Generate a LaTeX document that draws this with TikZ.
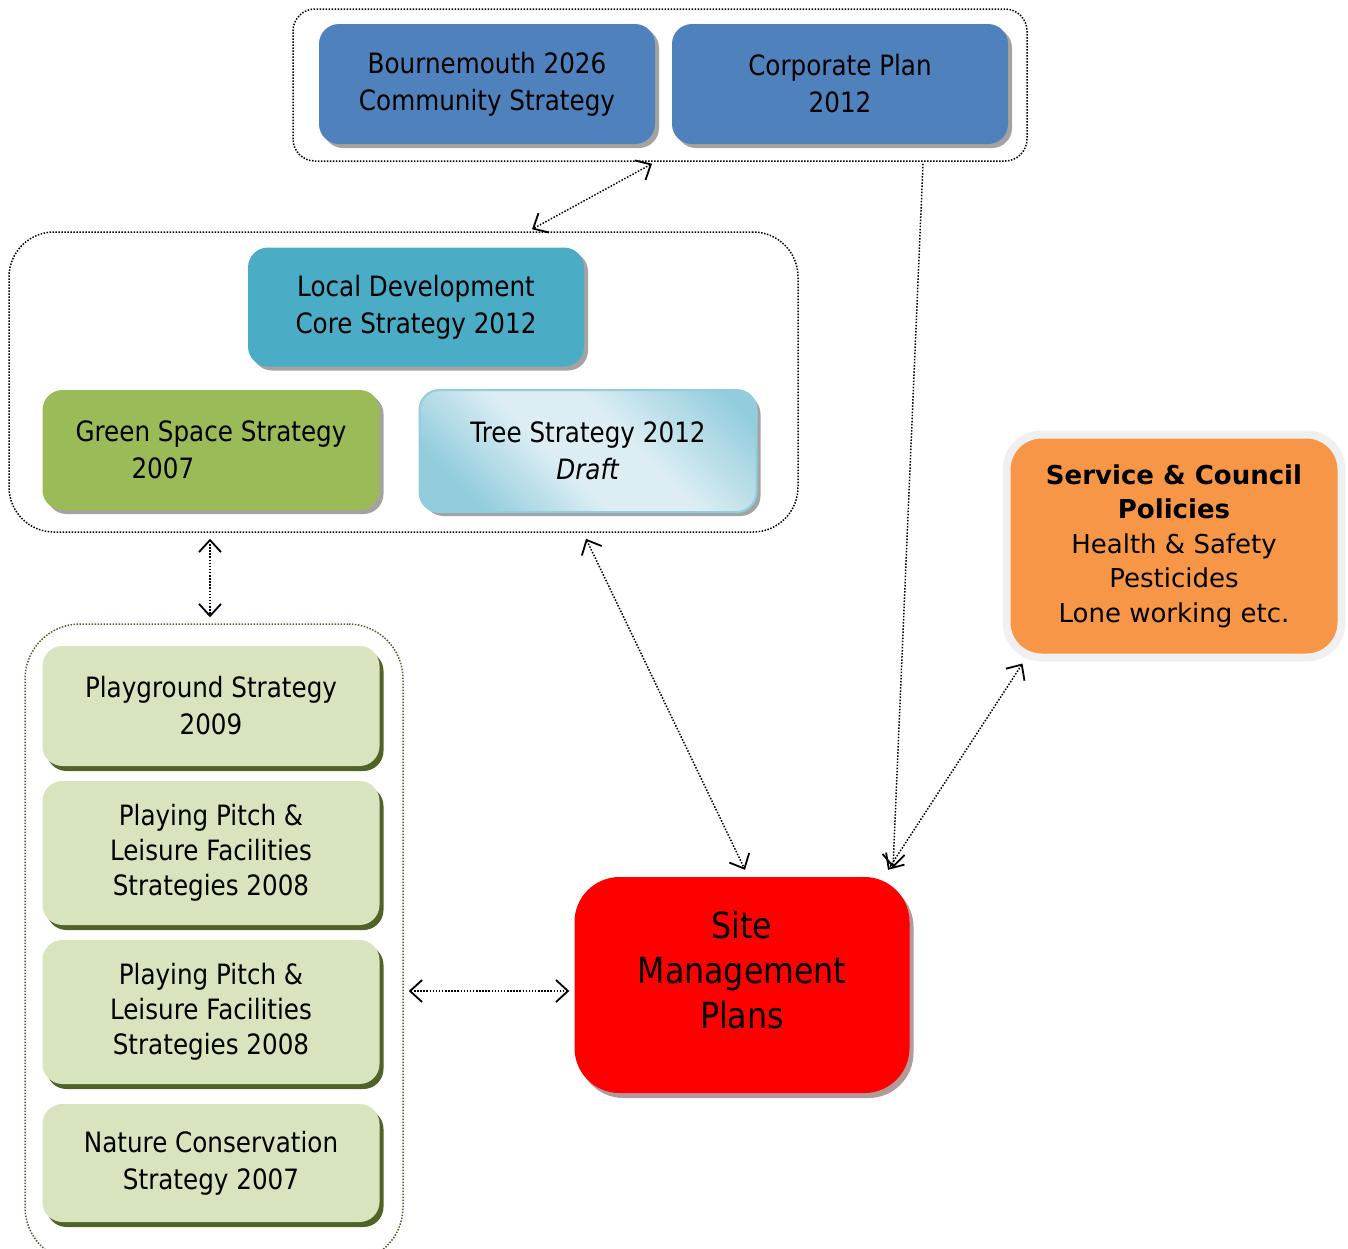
\documentclass[tikz,border=0pt]{standalone}
\usepackage{fontspec}
\setmainfont{DejaVu Sans}[FakeStretch=0.88]
\newfontfamily\orangefont{DejaVu Sans}
\usetikzlibrary{arrows.meta,shadows}

\definecolor{boroblue}{HTML}{4F81BD}
\definecolor{ldfteal}{HTML}{4BACC6}
\definecolor{gsgreen}{HTML}{9BBB59}
\definecolor{palegreen}{HTML}{D7E4BD}
\definecolor{olive}{HTML}{4F6228}
\definecolor{treedark}{HTML}{93CDDD}
\definecolor{treelight}{HTML}{DCEEF4}
\definecolor{orangebox}{HTML}{F79646}
\definecolor{orangeedge}{HTML}{F0F0F0}
\definecolor{shadowgrey}{HTML}{A3A3A3}
\definecolor{redshadow}{HTML}{B39A9A}
\pgfdeclarehorizontalshading{treeshade}{100bp}{color(0bp)=(treedark); color(25bp)=(treedark); color(44bp)=(treelight); color(58bp)=(treelight); color(80bp)=(treedark); color(100bp)=(treedark)}

\begin{document}
\begin{tikzpicture}[x=1pt,y=-1pt,
    planbox/.style={rounded corners=20pt, inner sep=0pt, align=center,
      minimum width=336pt, minimum height=120pt,
      font=\fontsize{28}{37}\selectfont},
    greyshadow/.style={drop shadow={shadow xshift=4pt, shadow yshift=-4pt,
      fill=shadowgrey, opacity=1}},
    oliveshadow/.style={drop shadow={shadow xshift=4pt, shadow yshift=-5pt,
      fill=olive, opacity=1}},
    subbox/.style={planbox, fill=palegreen, oliveshadow, minimum width=337pt},
    grpframe/.style={draw, rounded corners=#1, line width=1.5pt,
      dash pattern=on 1.5pt off 1.5pt, inner sep=0pt},
    link/.style={line width=1.5pt, dash pattern=on 1.5pt off 1.6pt,
      {Straight Barb[length=12pt,width=22pt,line width=1.8pt]}-{Straight Barb[length=12pt,width=22pt,line width=1.8pt]}},
    onelink/.style={line width=1.5pt, dash pattern=on 1.5pt off 1.6pt,
      -{Straight Barb[length=12pt,width=22pt,line width=1.8pt]}}]
  \useasboundingbox (0,0) rectangle (1348,1248);

  % groups
  \node[grpframe=22pt, minimum width=734pt, minimum height=152pt] (topgrp) at (660,85) {};
  \node[grpframe=45pt, minimum width=789pt, minimum height=300pt] (midgrp) at (403.5,382) {};
  \node[grpframe=55pt, draw=olive, minimum width=378pt, minimum height=638pt] (lowgrp) at (214,943) {};

  % top level plans
  \node[planbox, fill=boroblue, greyshadow] (boro) at (487,84) {Bournemouth 2026\\Community Strategy};
  \node[planbox, fill=boroblue, greyshadow] (corp) at (840,84) {Corporate Plan\\2012};

  % local development
  \node[planbox, fill=ldfteal, greyshadow, minimum height=119pt] (ldf) at (416,307) {Local Development\\Core Strategy 2012};
  \node[planbox, fill=gsgreen, greyshadow, minimum width=337pt, align=left] (green) at (211,450)
    {Green Space Strategy\\\hspace*{56pt}2007};
  \node[planbox, shading=treeshade, shading angle=45, draw=treedark, line width=2pt,
    greyshadow, minimum width=337pt, minimum height=122pt] (tree) at (588,451)
    {Tree Strategy 2012\\\textit{Draft}};

  % supporting strategies
  \node[subbox] (play) at (211,706) {Playground Strategy\\2009};
  \node[subbox, minimum height=144pt, font=\fontsize{28}{35}\selectfont] (pitcha) at (211,853)
    {Playing Pitch \&\\Leisure Facilities\\Strategies 2008};
  \node[subbox, minimum height=144pt, font=\fontsize{28}{35}\selectfont] (pitchb) at (211,1012)
    {Playing Pitch \&\\Leisure Facilities\\Strategies 2008};
  \node[subbox, minimum height=118pt] (nature) at (211,1163) {Nature Conservation\\Strategy 2007};

  % policies and site plans
  \node[planbox, fill=orangebox, draw=orangeedge, line width=8pt, rounded corners=35pt,
    minimum width=335pt, minimum height=223pt, font=\orangefont\fontsize{26}{34.5}\selectfont] (policy) at (1174,546)
    {\textbf{Service \& Council}\\\textbf{Policies}\\Health \& Safety\\Pesticides\\Lone working etc.};
  \node[planbox, fill=red, rounded corners=45pt, minimum width=335pt, minimum height=216pt,
    drop shadow={shadow xshift=4pt, shadow yshift=-5pt, fill=redshadow, opacity=1}] (smp) at (742,985) {};
  \node[align=center, font=\fontsize{36}{45}\selectfont] (smptext) at ([yshift=15pt]smp.center)
    {Site\\Management\\Plans};

  % connector ends
  \coordinate (t1) at ([xshift=-8pt,yshift=-2pt]topgrp.south);
  \coordinate (t2) at ([xshift=263pt,yshift=-2pt]topgrp.south);
  \coordinate (m1) at ([xshift=128.5pt,yshift=2pt]midgrp.north);
  \coordinate (m2) at ([xshift=-193.5pt,yshift=-6pt]midgrp.south);
  \coordinate (m3) at ([xshift=182.5pt,yshift=-6pt]midgrp.south);
  \coordinate (l1) at ([xshift=-4pt,yshift=6pt]lowgrp.north);
  \coordinate (l2) at ([xshift=5pt,yshift=-48pt]lowgrp.east);
  \coordinate (s1) at ([xshift=3pt,yshift=7pt]smp.north);
  \coordinate (s2) at ([xshift=146pt,yshift=7pt]smp.north);
  \coordinate (s3) at ([xshift=151pt,yshift=9pt]smp.north);
  \coordinate (s4) at ([xshift=-5pt,yshift=-6pt]smp.west);
  \coordinate (p1) at ([xshift=20pt,yshift=-2pt]policy.south west);

  \draw[link] (t1) -- (m1);
  \draw[link] (m2) -- (l1);
  \draw[link] (m3) -- (s1);
  \draw[onelink] (t2) -- (s3);
  \draw[link] (p1) -- (s2);
  \draw[link] (l2) -- (s4);
\end{tikzpicture}
\end{document}
